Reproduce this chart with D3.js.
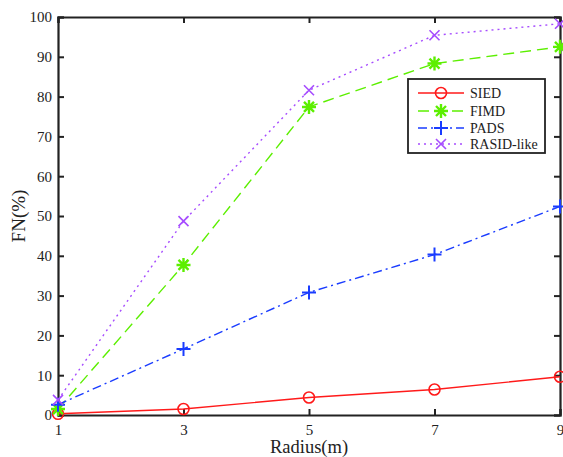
<!DOCTYPE html>
<html>
<head>
<meta charset="utf-8">
<script src="https://cdn.jsdelivr.net/npm/d3@7"></script>
<style>
  html, body { margin: 0; padding: 0; background: #fff; }
  svg { display: block; }
  text { font-family: "Liberation Serif", "Times New Roman", serif; fill: #222; }
</style>
</head>
<body>
<svg id="chart" width="563" height="457"></svg>
<script>
// Detection failure rate (FN) against sensing radius
const radius = [1, 3, 5, 7, 9];
const xTicks = [1, 3, 5, 7, 9];
const yTicks = [0, 10, 20, 30, 40, 50, 60, 70, 80, 90, 100];
const seriesNames = ["SIED", "FIMD", "PADS", "RASID-like"];
const siedFN  = [0.3, 1.5, 4.4, 6.4, 9.6];
const fimdFN  = [1.5, 37.7, 77.4, 88.3, 92.5];
const padsFN  = [2.6, 16.6, 30.8, 40.3, 52.4];
const rasidFN = [3.8, 48.7, 81.6, 95.4, 98.3];

const seriesValues = [siedFN, fimdFN, padsFN, rasidFN];
const colors = ["#ff1a1a", "#5cef00", "#1a3cff", "#a64cff"];
const dashes = [null, "11,6", "9,4,2,4", "2,4"];
const markers = ["circle", "star", "plus", "cross"];

const svg = d3.select("#chart");
const margin = { left: 58, right: 3, top: 17, bottom: 42 };
const W = 563, H = 457;
const x = d3.scaleLinear().domain([1, 9]).range([margin.left, W - margin.right]);
const y = d3.scaleLinear().domain([0, 100]).range([H - margin.bottom, margin.top]);

const axisColor = "#222";

// Axes with inward ticks on all four sides
const gx = svg.append("g").attr("transform", `translate(0,${y(0)})`)
  .call(d3.axisBottom(x).tickValues(xTicks).tickSize(-6).tickPadding(9).tickFormat(d3.format("d")));
const gxTop = svg.append("g").attr("transform", `translate(0,${y(100)})`)
  .call(d3.axisTop(x).tickValues(xTicks).tickSize(-6).tickFormat(""));
const gy = svg.append("g").attr("transform", `translate(${x(1)},0)`)
  .call(d3.axisLeft(y).tickValues(yTicks).tickSize(-6).tickPadding(6).tickFormat(d3.format("d")));
const gyRight = svg.append("g").attr("transform", `translate(${x(9)},0)`)
  .call(d3.axisRight(y).tickValues(yTicks).tickSize(-6).tickFormat(""));

[gx, gxTop, gy, gyRight].forEach(g => {
  g.selectAll(".domain").attr("stroke", axisColor).attr("stroke-width", 2.2);
  g.selectAll(".tick line").attr("stroke", axisColor).attr("stroke-width", 2);
  g.selectAll(".tick text").attr("font-size", 15).attr("fill", axisColor)
    .style("font-family", '"Liberation Serif", serif');
});

// Axis titles
svg.append("text").attr("x", (x(1) + x(9)) / 2).attr("y", 453)
  .attr("text-anchor", "middle").attr("font-size", 18.5).text("Radius(m)");
svg.append("text").attr("transform", `translate(25,${(y(0) + y(100)) / 2}) rotate(-90)`)
  .attr("text-anchor", "middle").attr("font-size", 19).text("FN(%)");

// Marker drawing
function drawMarker(g, type, cx, cy, color) {
  const m = g.append("g").attr("transform", `translate(${cx},${cy})`)
    .attr("fill", "none").attr("stroke", color).attr("stroke-width", 1.6);
  if (type === "circle") {
    m.append("circle").attr("r", 5.5);
  } else if (type === "plus") {
    m.append("path").attr("d", "M-7,0H7M0,-7V7").attr("stroke-width", 2);
  } else if (type === "cross") {
    m.append("path").attr("d", "M-5,-5L5,5M-5,5L5,-5");
  } else if (type === "star") {
    m.append("path").attr("d", "M-7,0H7M0,-7V7M-5,-5L5,5M-5,5L5,-5").attr("stroke-width", 2.4);
  }
}

const line = d3.line().x((d, i) => x(radius[i])).y(d => y(d));

seriesValues.forEach((vals, k) => {
  const g = svg.append("g");
  g.append("path").datum(vals).attr("d", line)
    .attr("fill", "none").attr("stroke", colors[k]).attr("stroke-width", 1.4)
    .attr("stroke-dasharray", dashes[k]);
  vals.forEach((v, i) => drawMarker(g, markers[k], x(radius[i]), y(v), colors[k]));
});

// Legend
const lg = svg.append("g").attr("transform", "translate(408,79)");
lg.append("rect").attr("width", 137).attr("height", 74)
  .attr("fill", "#fff").attr("stroke", axisColor).attr("stroke-width", 1.8);
const rowY = [14, 32, 49, 65];
seriesNames.forEach((name, k) => {
  lg.append("line").attr("x1", 10).attr("x2", 56).attr("y1", rowY[k]).attr("y2", rowY[k])
    .attr("stroke", colors[k]).attr("stroke-width", 1.6).attr("stroke-dasharray", dashes[k]);
  drawMarker(lg, markers[k], 33, rowY[k], colors[k]);
  lg.append("text").attr("x", 62).attr("y", rowY[k] + 5).attr("font-size", 14).text(name);
});
</script>
</body>
</html>
